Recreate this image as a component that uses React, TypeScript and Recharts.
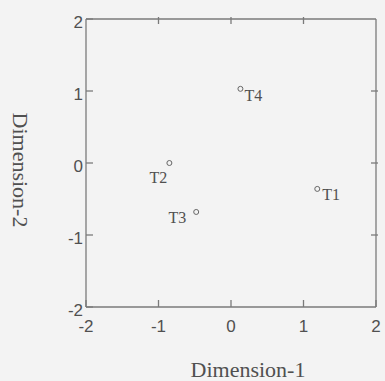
import { ScatterChart, Scatter, XAxis, YAxis } from "recharts";

const names = ["T1", "T2", "T3", "T4"];
const dim1 = [1.19, -0.85, -0.48, 0.13];
const dim2 = [-0.36, 0.0, -0.68, 1.03];
const ticks = [-2, -1, 0, 1, 2];
const innerTicks = [-1, 0, 1];

const points = names.map((name, i) => ({ name, x: dim1[i], y: dim2[i] }));

// where each point label sits relative to its marker
const labelPlacement: Record<string, { dx: number; dy: number; anchor: string }> = {
  T1: { dx: 5, dy: 11, anchor: "start" },
  T2: { dx: -2, dy: 20, anchor: "end" },
  T3: { dx: -10, dy: 11, anchor: "end" },
  T4: { dx: 4, dy: 12, anchor: "start" },
};

const axisColor = "#7a7a7a";
const textColor = "#505050";
const serif = "'Liberation Serif', 'Times New Roman', serif";
const sans = "'Liberation Sans', Arial, sans-serif";

function BottomTick({ x, y, payload }: any) {
  return (
    <g>
      <line x1={x} y1={y} x2={x} y2={y - 7} stroke={axisColor} strokeWidth={1.3} />
      <text x={x} y={y + 25} textAnchor="middle" fontFamily={sans} fontSize={17} fill={textColor}>
        {payload.value}
      </text>
    </g>
  );
}

function LeftTick({ x, y, payload }: any) {
  return (
    <g>
      <line x1={x} y1={y} x2={x + 7} y2={y} stroke={axisColor} strokeWidth={1.3} />
      <text x={x - 3} y={y + 9} textAnchor="end" fontFamily={sans} fontSize={17} fill={textColor}>
        {payload.value}
      </text>
    </g>
  );
}

function TopTick({ x, y }: any) {
  return <line x1={x} y1={y} x2={x} y2={y + 7} stroke={axisColor} strokeWidth={1.3} />;
}

function RightTick({ x, y }: any) {
  return <line x1={x} y1={y} x2={x - 7} y2={y} stroke={axisColor} strokeWidth={1.3} />;
}

function PointShape({ cx, cy, payload }: any) {
  const p = labelPlacement[payload.name];
  return (
    <g>
      <circle cx={cx} cy={cy} r={2.5} fill="none" stroke="#666" strokeWidth={1} />
      <text x={cx + p.dx} y={cy + p.dy} textAnchor={p.anchor} fontFamily={serif} fontSize={16} fill={textColor}>
        {payload.name}
      </text>
    </g>
  );
}

function NoShape() {
  return <g />;
}

export default function App() {
  return (
    <div style={{ position: "absolute", left: 0, top: 0, width: 385, height: 381, background: "#f3f3f3" }}>
      <ScatterChart width={385} height={381} margin={{ top: 18, right: 8, bottom: 14, left: 0 }}>
        <XAxis
          dataKey="x"
          type="number"
          domain={[-2, 2]}
          ticks={ticks}
          height={60}
          tickSize={0}
          tickMargin={0}
          tickLine={false}
          tick={<BottomTick />}
          stroke={axisColor}
          strokeWidth={1.3}
          label={{
            content: ({ viewBox }: any) => (
              <text
                x={viewBox.x + viewBox.width / 2 + 17}
                y={viewBox.y + 70}
                textAnchor="middle"
                fontFamily={serif}
                fontSize={22}
                fill={textColor}
              >
                Dimension-1
              </text>
            ),
          }}
        />
        <XAxis
          xAxisId="top"
          dataKey="x"
          orientation="top"
          type="number"
          domain={[-2, 2]}
          ticks={innerTicks}
          height={1}
          tickSize={0}
          tickLine={false}
          tick={<TopTick />}
          stroke={axisColor}
          strokeWidth={1.3}
        />
        <YAxis
          dataKey="y"
          type="number"
          domain={[-2, 2]}
          ticks={ticks}
          width={86}
          tickSize={0}
          tickMargin={0}
          tickLine={false}
          tick={<LeftTick />}
          stroke={axisColor}
          strokeWidth={1.3}
          label={{
            content: ({ viewBox }: any) => {
              const cx = viewBox.x + 13;
              const cy = viewBox.y + viewBox.height / 2 + 7;
              return (
                <text
                  x={cx}
                  y={cy}
                  transform={`rotate(90, ${cx}, ${cy})`}
                  textAnchor="middle"
                  fontFamily={serif}
                  fontSize={22}
                  fill={textColor}
                >
                  Dimension-2
                </text>
              );
            },
          }}
        />
        <YAxis
          yAxisId="right"
          dataKey="y"
          orientation="right"
          type="number"
          domain={[-2, 2]}
          ticks={innerTicks}
          width={1}
          tickSize={0}
          tickLine={false}
          tick={<RightTick />}
          stroke={axisColor}
          strokeWidth={1.3}
        />
        <Scatter data={points} shape={<PointShape />} isAnimationActive={false} />
        <Scatter data={points} xAxisId="top" yAxisId="right" shape={<NoShape />} isAnimationActive={false} />
      </ScatterChart>
    </div>
  );
}
